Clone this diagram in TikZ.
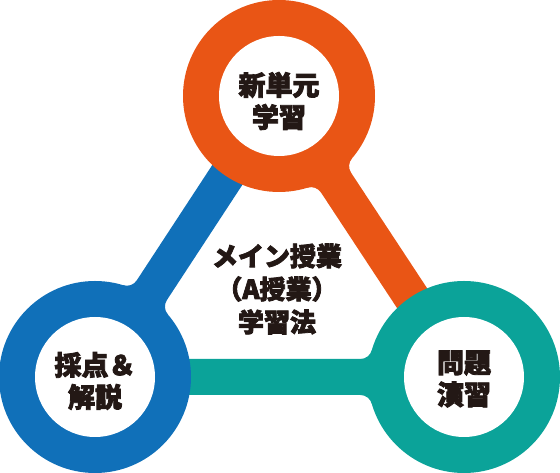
\documentclass[tikz,border=0pt]{standalone}
\usepackage{fontspec}
\newfontfamily\jpfont{Noto Sans CJK JP Black}[FakeBold=3]
\definecolor{cOrange}{RGB}{233,85,21}
\definecolor{cBlue}{RGB}{16,112,185}
\definecolor{cTeal}{RGB}{11,163,153}
\definecolor{cInk}{RGB}{35,24,21}
\newcommand{\ringbar}[2]{%
  \fill[#1] (60,26.67) -- (92.22,26.67) arc[start angle=196.13, end angle=270, radius=12]
    -- (#2,18) -- (#2,-18) -- (103.75,-18) arc[start angle=90, end angle=163.87, radius=12]
    -- (60,-26.67) -- cycle;}
\tikzset{
  ring/.style={fill=#1},
  hole/.style={fill=white},
  label/.style={font=\jpfont\fontsize{27}{32}\selectfont, text=cInk, align=center, inner sep=0pt},
}
\begin{document}
\begin{tikzpicture}[x=1pt,y=1pt]
\useasboundingbox (0,0) rectangle (560,473);
\coordinate (O) at (279,377);
\coordinate (B) at (95,96);
\coordinate (T) at (464,96);
% bars
\begin{scope}[shift={(B)}, rotate=56.78]\ringbar{cBlue}{256}\end{scope}
\begin{scope}[shift={(O)}, rotate=-56.64]\ringbar{cOrange}{256}\end{scope}
\begin{scope}[shift={(T)}, rotate=180]\ringbar{cTeal}{289}\end{scope}
% rings
\fill[ring=cOrange] (O) circle[radius=96];
\fill[hole] (O) circle[radius=60];
\fill[ring=cBlue] (B) circle[radius=96];
\fill[hole] (B) circle[radius=60];
\fill[ring=cTeal] (T) circle[radius=96];
\fill[hole] (T) circle[radius=60];
% labels
\node[label] (tO) at ([yshift=-5]O) {新単元\\学習};
\node[label] (tB) at ([yshift=-4]B) {採点＆\\解説};
\node[label] (tT) at ([yshift=-2]T) {問題\\演習};
\node[label, font=\jpfont\fontsize{26}{33}\selectfont] (tC) at (277,184) {メイン授業\\（A授業）\\学習法};
\end{tikzpicture}
\end{document}
